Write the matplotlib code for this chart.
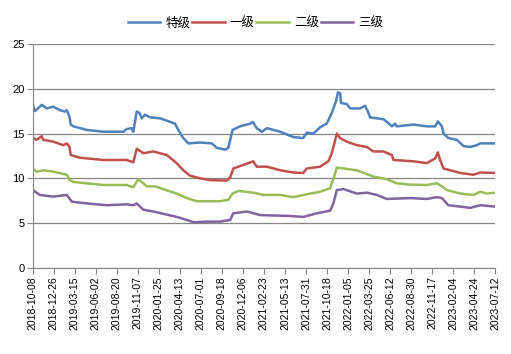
import matplotlib
matplotlib.use("Agg")
import matplotlib.pyplot as plt
import matplotlib.dates as mdates
import pandas as pd

plt.rcParams['font.family'] = ['Liberation Sans', 'Noto Sans CJK SC', 'DejaVu Sans']

labels = ["特级", "一级", "二级", "三级"]
colors = ["#4F81BD", "#C0504D", "#9BBB59", "#8064A2"]

# 特级
d_top = ["2018-10-08", "2018-10-17", "2018-11-11", "2018-11-30", "2018-12-24", "2019-01-19",
         "2019-02-06", "2019-02-13", "2019-02-23", "2019-02-28", "2019-03-10", "2019-04-29",
         "2019-06-30", "2019-09-14", "2019-09-26", "2019-10-15", "2019-10-21", "2019-11-03",
         "2019-11-13", "2019-11-22", "2019-12-04", "2019-12-23", "2020-01-30", "2020-03-26",
         "2020-04-07", "2020-04-26", "2020-05-15", "2020-06-28", "2020-08-11", "2020-08-30",
         "2020-09-30", "2020-10-12", "2020-10-28", "2020-11-25", "2021-01-02", "2021-01-12",
         "2021-01-27", "2021-02-15", "2021-03-06", "2021-04-25", "2021-06-14", "2021-07-21",
         "2021-08-03", "2021-08-28", "2021-09-22", "2021-10-17", "2021-11-05", "2021-11-21",
         "2021-11-28", "2021-12-06", "2021-12-10", "2021-12-31", "2022-01-13", "2022-02-19",
         "2022-03-10", "2022-03-23", "2022-03-29", "2022-05-18", "2022-05-31", "2022-06-19",
         "2022-07-01", "2022-07-07", "2022-09-08", "2022-10-28", "2022-11-28", "2022-12-09",
         "2022-12-24", "2022-12-30", "2023-01-17", "2023-02-18", "2023-03-15", "2023-04-09",
         "2023-05-04", "2023-05-17", "2023-07-12"]
v_top = [18.2, 17.5, 18.2, 17.8, 18.0, 17.6,
         17.45, 17.6, 16.9, 16.0, 15.8, 15.4,
         15.2, 15.2, 15.5, 15.6, 15.2, 17.45,
         17.3, 16.7, 17.1, 16.8, 16.7, 16.1,
         15.4, 14.5, 13.9, 14.0, 13.9, 13.4,
         13.2, 13.4, 15.4, 15.8, 16.1, 16.3,
         15.6, 15.2, 15.6, 15.2, 14.6, 14.5,
         15.1, 15.0, 15.7, 16.1, 17.3, 18.6,
         19.6, 19.5, 18.4, 18.3, 17.8, 17.8,
         18.1, 17.3, 16.8, 16.6, 16.3, 15.8,
         16.1, 15.8, 16.0, 15.8, 15.8, 16.35,
         15.8, 15.0, 14.5, 14.3, 13.6, 13.5,
         13.7, 13.9, 13.9]

# 一级
d_first = ["2018-10-08", "2018-10-23", "2018-11-11", "2018-11-17", "2018-12-24", "2019-01-31",
           "2019-02-13", "2019-02-23", "2019-02-28", "2019-04-04", "2019-06-30", "2019-09-26",
           "2019-10-21", "2019-11-03", "2019-11-28", "2020-01-04", "2020-02-24", "2020-04-01",
           "2020-04-26", "2020-05-21", "2020-06-28", "2020-08-05", "2020-10-06", "2020-10-19",
           "2020-10-31", "2020-12-08", "2021-01-14", "2021-01-27", "2021-03-06", "2021-04-25",
           "2021-06-14", "2021-07-21", "2021-08-03", "2021-09-22", "2021-10-23", "2021-11-05",
           "2021-11-24", "2021-12-06", "2021-12-31", "2022-02-07", "2022-03-17", "2022-04-10",
           "2022-05-18", "2022-06-19", "2022-06-25", "2022-09-08", "2022-10-28", "2022-11-28",
           "2022-12-09", "2022-12-17", "2022-12-30", "2023-03-03", "2023-04-21", "2023-05-17",
           "2023-07-12"]
v_first = [14.5, 14.3, 14.7, 14.3, 14.1, 13.7,
           13.9, 13.5, 12.6, 12.3, 12.05, 12.05,
           11.8, 13.3, 12.8, 13.0, 12.6, 11.7,
           10.9, 10.3, 10.0, 9.8, 9.75, 10.1,
           11.1, 11.5, 11.9, 11.3, 11.3, 10.9,
           10.65, 10.6, 11.1, 11.3, 11.9, 12.8,
           15.0, 14.5, 14.1, 13.7, 13.5, 13.0,
           13.0, 12.6, 12.05, 11.9, 11.7, 12.2,
           12.9, 12.05, 11.1, 10.6, 10.4, 10.65,
           10.6]

# 二级
d_second = ["2018-10-08", "2018-10-23", "2018-11-17", "2018-12-24", "2019-02-13", "2019-02-25",
            "2019-03-10", "2019-06-30", "2019-09-26", "2019-10-21", "2019-11-09", "2019-11-28",
            "2019-12-11", "2020-01-11", "2020-04-01", "2020-05-09", "2020-06-16", "2020-09-11",
            "2020-10-12", "2020-10-28", "2020-11-19", "2021-01-14", "2021-02-21", "2021-04-25",
            "2021-06-14", "2021-07-21", "2021-08-15", "2021-09-22", "2021-10-30", "2021-11-14",
            "2021-11-24", "2021-12-19", "2022-02-07", "2022-03-23", "2022-04-10", "2022-05-31",
            "2022-07-07", "2022-08-26", "2022-10-28", "2022-12-05", "2022-12-24", "2023-01-11",
            "2023-03-03", "2023-04-21", "2023-05-17", "2023-06-11", "2023-07-12"]
v_second = [11.1, 10.75, 10.9, 10.75, 10.4, 9.8,
            9.6, 9.26, 9.26, 9.0, 9.9, 9.45,
            9.1, 9.1, 8.3, 7.8, 7.45, 7.45,
            7.6, 8.3, 8.6, 8.4, 8.15, 8.15,
            7.9, 8.15, 8.3, 8.5, 8.9, 10.2,
            11.2, 11.1, 10.9, 10.4, 10.2, 9.9,
            9.45, 9.3, 9.26, 9.45, 9.1, 8.7,
            8.3, 8.15, 8.5, 8.3, 8.4]

# 三级
d_third = ["2018-10-08", "2018-11-04", "2018-12-24", "2019-02-13", "2019-03-04", "2019-04-29",
           "2019-07-13", "2019-09-26", "2019-10-21", "2019-11-03", "2019-11-28", "2020-01-04",
           "2020-04-01", "2020-05-09", "2020-06-03", "2020-07-23", "2020-09-11", "2020-10-19",
           "2020-10-31", "2020-12-21", "2021-02-09", "2021-06-01", "2021-07-21", "2021-08-15",
           "2021-09-10", "2021-10-30", "2021-11-11", "2021-11-24", "2021-12-19", "2022-02-07",
           "2022-03-17", "2022-04-23", "2022-05-31", "2022-08-26", "2022-10-28", "2022-12-05",
           "2022-12-24", "2023-01-17", "2023-03-03", "2023-04-09", "2023-05-17", "2023-07-12"]
v_third = [8.7, 8.15, 7.96, 8.15, 7.4, 7.2,
           7.0, 7.1, 7.0, 7.2, 6.5, 6.3,
           5.7, 5.36, 5.1, 5.17, 5.17, 5.36,
           6.1, 6.3, 5.9, 5.8, 5.7, 5.9,
           6.1, 6.4, 7.2, 8.7, 8.8, 8.3,
           8.4, 8.15, 7.7, 7.8, 7.7, 7.9,
           7.8, 7.0, 6.85, 6.7, 7.0, 6.85]

series = [(d_top, v_top), (d_first, v_first), (d_second, v_second), (d_third, v_third)]

fig = plt.figure(figsize=(5.11, 3.54), dpi=100)
ax = fig.add_axes([0.064, 0.243, 0.905, 0.633])

for (d, v), lab, c in zip(series, labels, colors):
    ax.plot(pd.to_datetime(d), v, color=c, lw=1.8, label=lab, solid_joinstyle="round")

grey = "#868686"
start, end = pd.Timestamp("2018-10-08"), pd.Timestamp("2023-07-12")
ax.set_xlim(start, end)
ax.set_ylim(0, 25)
ax.set_yticks(range(0, 26, 5))
ax.set_xticks(pd.date_range(start, end, freq="79D"))
ax.xaxis.set_major_formatter(mdates.DateFormatter("%Y-%m-%d"))
ax.tick_params(axis="x", rotation=90, labelsize=7.5, length=4, color=grey, pad=2)
ax.tick_params(axis="y", labelsize=8, length=4, color=grey, pad=2)
ax.grid(axis="y", color=grey, lw=0.9)
ax.set_axisbelow(True)
for s in ["top", "right"]:
    ax.spines[s].set_visible(False)
for s in ["left", "bottom"]:
    ax.spines[s].set_color(grey)

fig.legend(loc="upper center", bbox_to_anchor=(0.5, 0.985), ncol=4, frameon=False,
           handlelength=2.6, handletextpad=0.4, columnspacing=0.15,
           prop={"family": ["Noto Sans CJK SC"], "size": 9})

fig.savefig("out.png", dpi=100)
